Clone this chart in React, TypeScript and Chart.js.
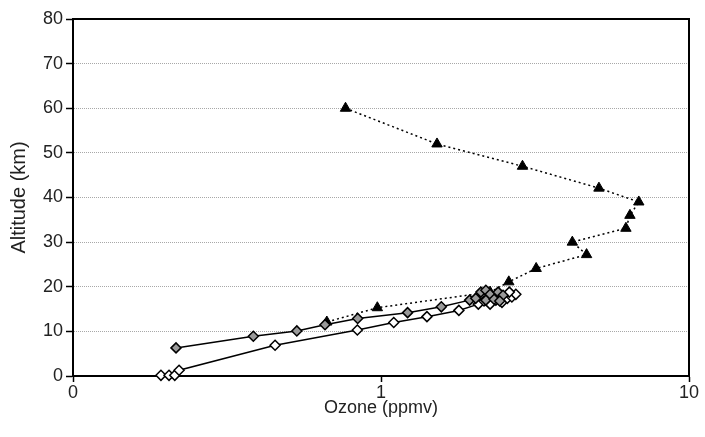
import React, { useEffect, useRef } from 'react';
import { Chart, registerables } from 'chart.js';

Chart.register(...registerables);

// Triangles (dotted line)
const triOzone = [0.767, 1.52, 2.88, 5.1, 6.87, 6.43, 6.24, 4.18, 4.65, 3.19, 2.6, 2.26, 0.973, 0.667];
const triAlt = [60, 52, 47, 42.1, 39, 36, 33.1, 30, 27.2, 24.1, 21.1, 18.8, 15.3, 12.1];

// Gray diamonds (solid line)
const grayOzone = [0.216, 0.385, 0.533, 0.658, 0.84, 1.22, 1.57, 1.94, 2.03, 2.11, 2.19, 2.26, 2.19, 2.33, 2.4, 2.49, 2.43];
const grayAlt = [6.3, 8.9, 10.1, 11.5, 12.9, 14.2, 15.5, 17.0, 17.4, 18.8, 19.2, 18.3, 17.0, 17.2, 18.8, 18.1, 16.8];

// White diamonds (solid line)
const whiteOzone = [0.193, 0.205, 0.214, 0.221, 0.453, 0.838, 1.1, 1.41, 1.79, 2.07, 2.16, 2.26, 2.36, 2.47, 2.57, 2.66, 2.74, 2.61];
const whiteAlt = [0.15, 0.15, 0.15, 1.3, 6.9, 10.3, 12.0, 13.3, 14.7, 16.1, 16.8, 16.1, 17.0, 16.5, 17.4, 17.7, 18.3, 18.8];

const xTicks = [0.1, 1, 10];
const xTickLabels = ['0', '1', '10'];
const yTicks = [0, 10, 20, 30, 40, 50, 60, 70, 80];

const xTitle = 'Ozone (ppmv)';
const yTitle = 'Altitude (km)';

const FONT = "'Liberation Sans', Arial, sans-serif";

const pts = (xs: number[], ys: number[]) => xs.map((x, i) => ({ x, y: ys[i] }));

const framePlugin = {
  id: 'frame',
  beforeDatasetsDraw(chart: any) {
    const { ctx, chartArea } = chart;
    ctx.save();
    ctx.strokeStyle = '#000';
    ctx.lineWidth = 2;
    ctx.strokeRect(chartArea.left, chartArea.top, chartArea.right - chartArea.left, chartArea.bottom - chartArea.top);
    ctx.restore();
  },
};

export default function App() {
  const ref = useRef<HTMLCanvasElement>(null);

  useEffect(() => {
    if (!ref.current) return;
    const chart = new Chart(ref.current, {
      type: 'scatter',
      data: {
        datasets: [
          {
            label: 'gray',
            data: pts(grayOzone, grayAlt),
            showLine: true,
            borderColor: '#000',
            borderWidth: 1.5,
            pointStyle: 'rectRot',
            pointRadius: 5,
            pointBackgroundColor: '#9a9a9a',
            pointBorderColor: '#000',
            pointBorderWidth: 1.5,
            clip: false,
          } as any,
          {
            label: 'white',
            data: pts(whiteOzone, whiteAlt),
            showLine: true,
            borderColor: '#000',
            borderWidth: 1.5,
            pointStyle: 'rectRot',
            pointRadius: 5,
            pointBackgroundColor: '#fff',
            pointBorderColor: '#000',
            pointBorderWidth: 1.5,
            clip: false,
          } as any,
          {
            label: 'tri',
            data: pts(triOzone, triAlt),
            showLine: true,
            borderColor: '#000',
            borderWidth: 1.5,
            borderDash: [2, 3],
            pointStyle: 'triangle',
            pointRadius: 6,
            pointBackgroundColor: '#000',
            pointBorderColor: '#000',
            pointBorderWidth: 1,
            clip: false,
          } as any,
        ],
      },
      options: {
        animation: false,
        responsive: false,
        devicePixelRatio: 1,
        layout: { padding: { top: 19, right: 16, left: 0, bottom: 0 } },
        plugins: { legend: { display: false }, tooltip: { enabled: false } },
        scales: {
          x: {
            type: 'logarithmic',
            min: 0.1,
            max: 10,
            afterBuildTicks: (scale: any) => {
              scale.ticks = xTicks.map((v) => ({ value: v }));
            },
            afterFit: (scale: any) => {
              scale.height = 61;
            },
            ticks: {
              callback: (v: any) => {
                const i = xTicks.findIndex((t) => Math.abs(t - v) < 1e-9);
                return i >= 0 ? xTickLabels[i] : '';
              },
              font: { family: FONT, size: 18 },
              color: '#222',
              padding: 0,
              maxRotation: 0,
              autoSkip: false,
            },
            grid: {
              display: true,
              drawOnChartArea: false,
              drawTicks: true,
              tickLength: 6,
              tickColor: '#000',
              tickWidth: 1.5,
            },
            border: { display: true, color: '#000', width: 2 },
            title: {
              display: true,
              text: xTitle,
              font: { family: FONT, size: 18 },
              color: '#222',
              padding: { top: 0, bottom: 18 },
            },
          },
          y: {
            type: 'linear',
            min: 0,
            max: 80,
            afterBuildTicks: (scale: any) => {
              scale.ticks = yTicks.map((v) => ({ value: v }));
            },
            afterFit: (scale: any) => {
              scale.width = 73;
            },
            ticks: {
              font: { family: FONT, size: 18 },
              color: '#222',
              padding: 3,
            },
            grid: {
              display: true,
              drawOnChartArea: true,
              drawTicks: true,
              tickLength: 7,
              tickColor: '#000',
              tickWidth: 1.5,
              color: '#a8a8a8',
              lineWidth: 1,
            },
            border: { display: true, color: '#000', width: 2, dash: [1, 1] },
            title: {
              display: true,
              text: yTitle,
              font: { family: FONT, size: 20 },
              color: '#222',
              padding: { top: 7, bottom: 0 },
            },
          },
        },
      },
      plugins: [framePlugin],
    } as any);
    return () => chart.destroy();
  }, []);

  return (
    <div style={{ position: 'absolute', left: 0, top: 0, width: 705, height: 437 }}>
      <canvas ref={ref} width={705} height={437} />
    </div>
  );
}
